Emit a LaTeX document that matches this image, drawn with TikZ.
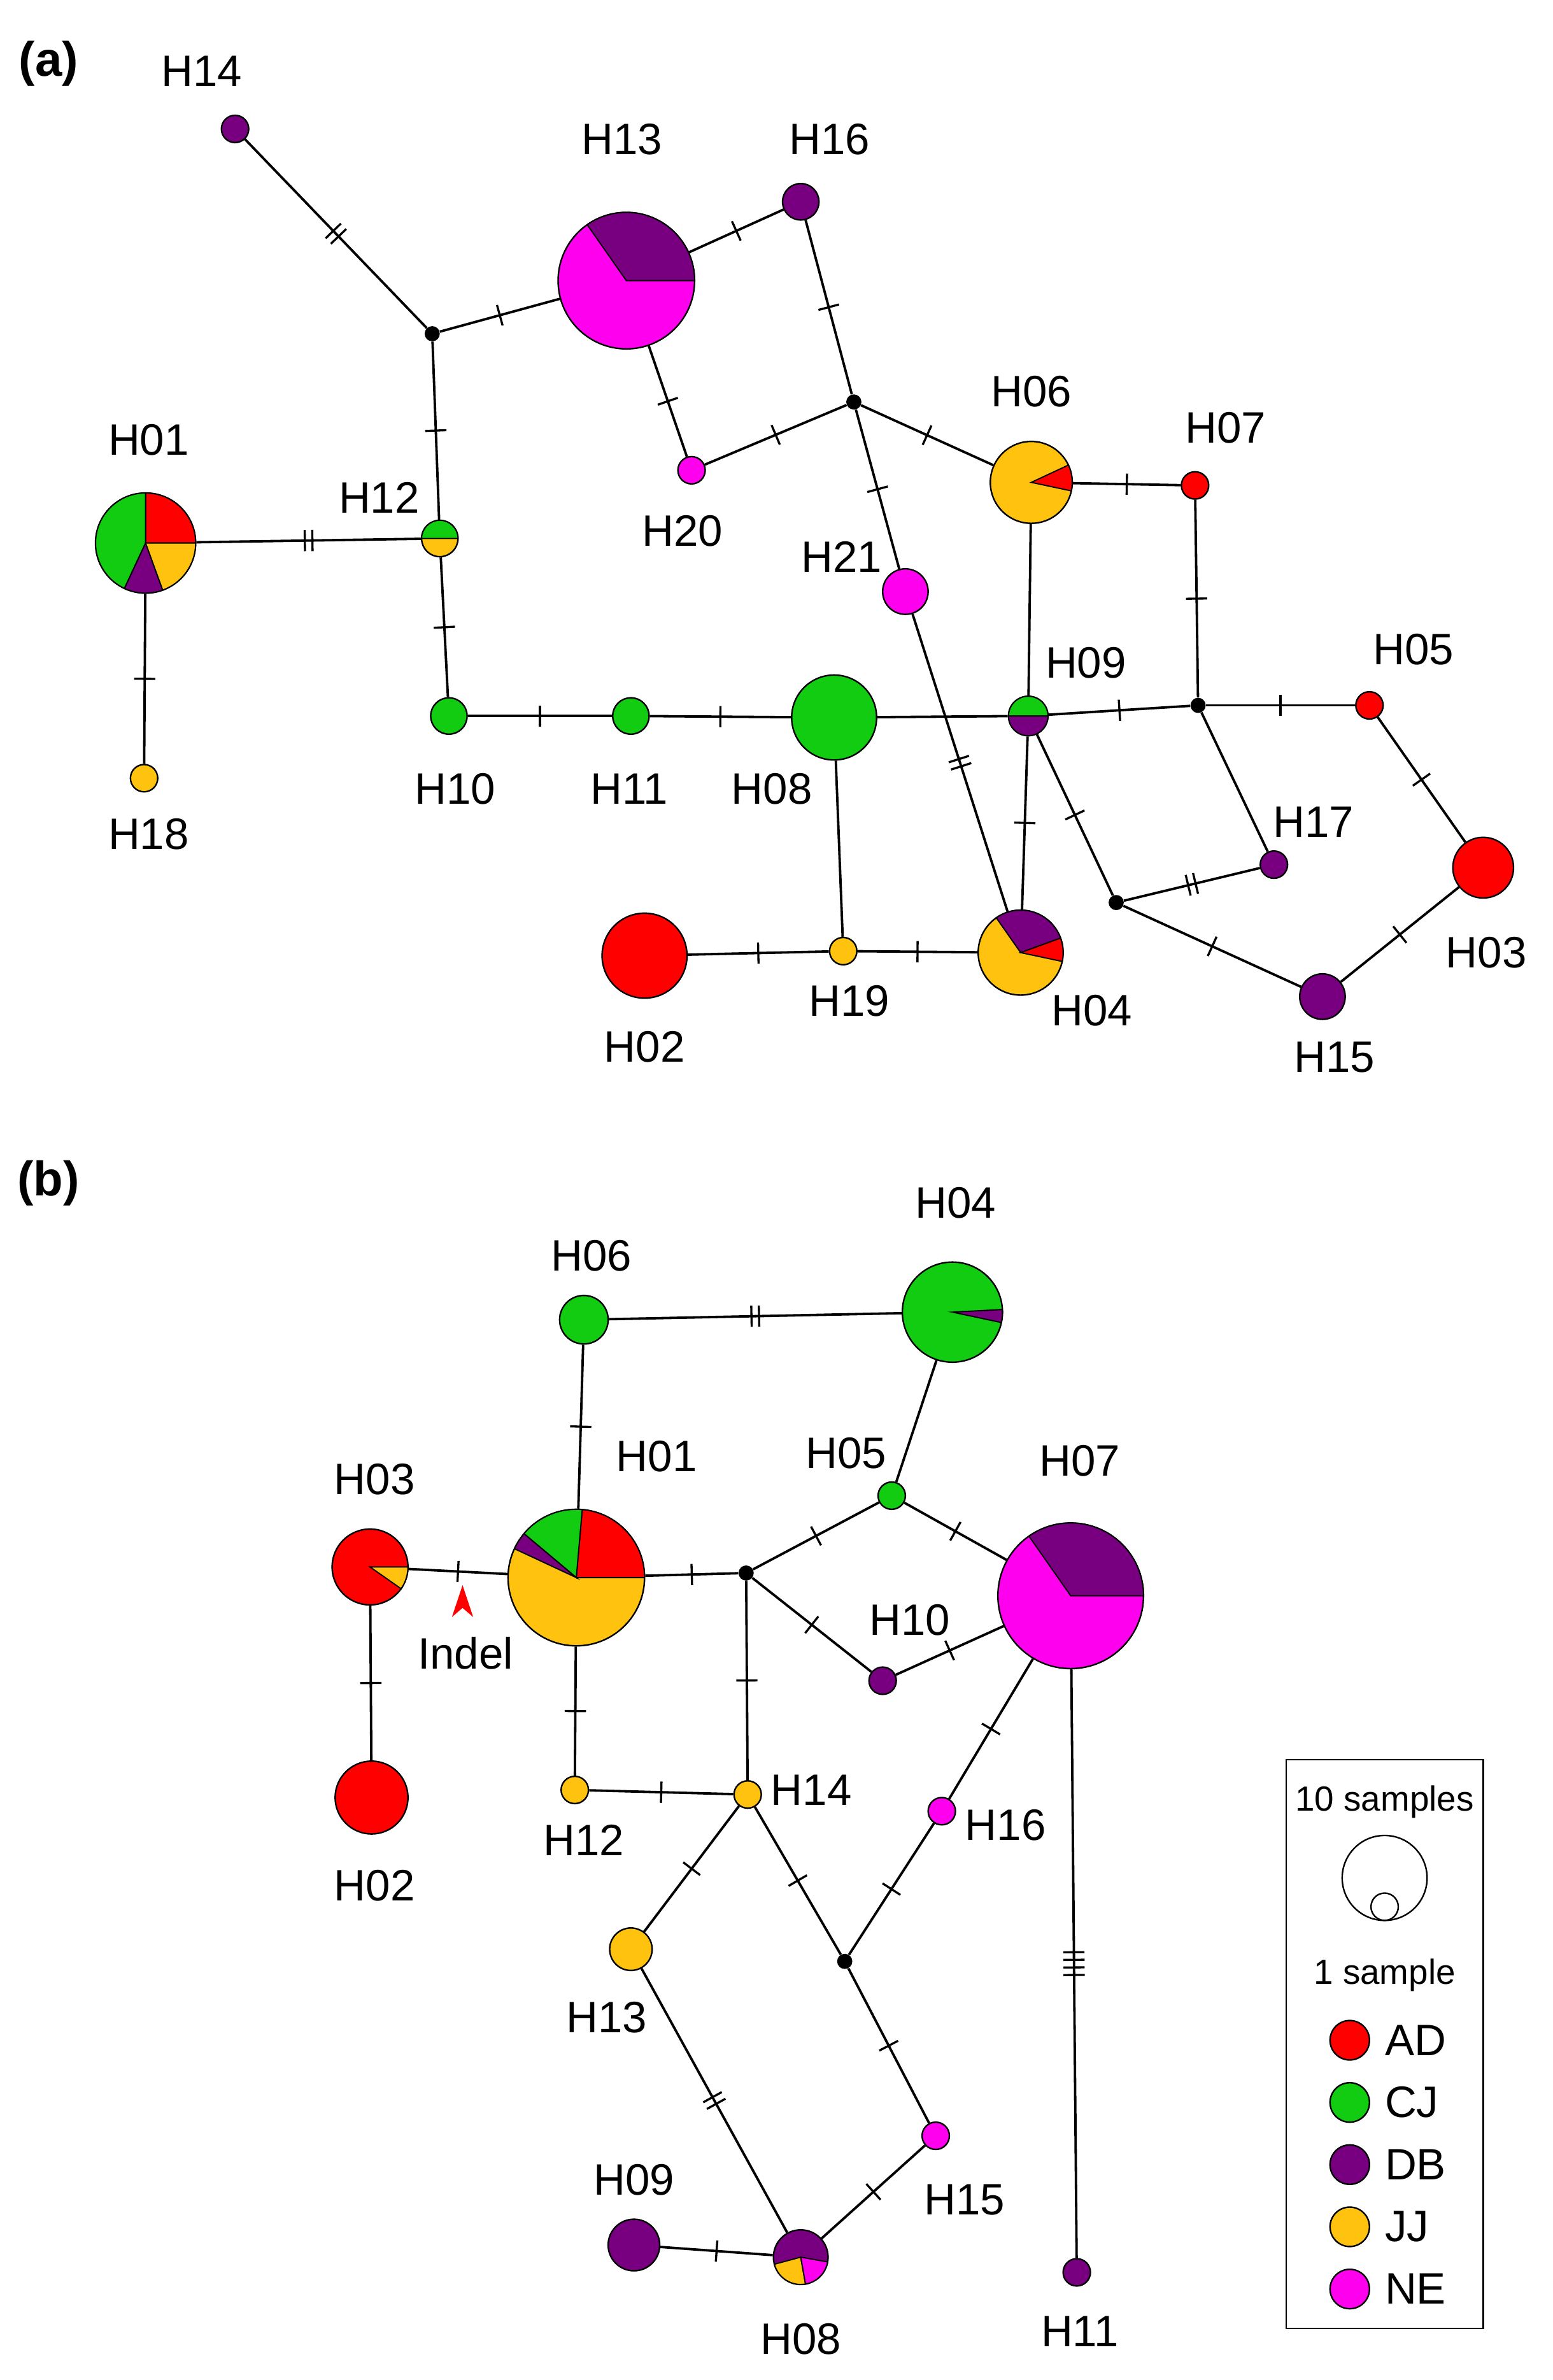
\documentclass[tikz,border=0pt]{standalone}
\usepackage{fontspec}
\setmainfont{Liberation Sans}
\usetikzlibrary{decorations.markings,backgrounds}
\definecolor{AD}{HTML}{FF0000}
\definecolor{CJ}{HTML}{11CC11}
\definecolor{DB}{HTML}{780080}
\definecolor{JJ}{HTML}{FFC20E}
\definecolor{NE}{HTML}{FF00EE}
\newcommand\slc[5]{\filldraw[fill=#5,draw=black,line width=0.8pt] (#1.center) -- ++(#3:#2pt) arc[start angle=#3,end angle=#4,radius=#2pt] -- cycle;}
\newcommand\hp[5]{\node[hap,minimum size=#4*2pt,fill=#5] (#1) at (#2,-#3) {};}
\newcommand\jn[3]{\node[jun] (#1) at (#2,-#3) {};}
\newcommand\lb[4]{\node[lab] (#1) at (#2,-#3) {#4};}
\tikzset{
 hap/.style={circle,draw=black,line width=1pt,inner sep=0pt},
 jun/.style={circle,fill=black,inner sep=0pt,minimum size=10pt},
 lab/.style={font=\fontsize{29}{33}\selectfont,inner sep=0pt},
 e/.style={line width=1.6pt},
 t1/.style={postaction={decorate,decoration={markings,mark=at position 0.5 with {\draw[line width=1.4pt] (0,-7pt)--(0,7pt);}}}},
 t2/.style={postaction={decorate,decoration={markings,mark=at position 0.5 with {\draw[line width=1.4pt] (-2.5pt,-7pt)--(-2.5pt,7pt) (2.5pt,-7pt)--(2.5pt,7pt);}}}},
 t4/.style={postaction={decorate,decoration={markings,mark=at position 0.5 with {\draw[line width=1.4pt] (-7.5pt,-7pt)--(-7.5pt,7pt) (-2.5pt,-7pt)--(-2.5pt,7pt) (2.5pt,-7pt)--(2.5pt,7pt) (7.5pt,-7pt)--(7.5pt,7pt);}}}},
}
\begin{document}
\begin{tikzpicture}[x=1pt,y=1pt]
\useasboundingbox (0,0) rectangle (1024,-1569);
\node[font=\fontsize{32}{36}\selectfont\bfseries] (pa) at (32,-42) {(a)};
\node[font=\fontsize{32}{36}\selectfont\bfseries] (pb) at (32,-780) {(b)};
% ---------- (a)
\hp{aH14}{155}{85}{9}{DB}
\jn{aJ1}{285}{220}
\hp{aH13}{413}{185}{45}{NE}
\hp{aH16}{528}{133}{12}{DB}
\hp{aH20}{456}{310}{9}{NE}
\jn{aJ2}{563}{265}
\hp{aH06}{680}{318}{27}{JJ}
\hp{aH07}{788}{320}{9}{AD}
\hp{aH21}{597}{390}{15}{NE}
\hp{aH01}{96}{358}{33}{JJ}
\hp{aH12}{290}{355}{12}{JJ}
\hp{aH18}{95}{513}{9}{JJ}
\hp{aH10}{296}{472}{12}{CJ}
\hp{aH11}{416}{472}{12}{CJ}
\hp{aH08}{550}{473}{28}{CJ}
\hp{aH09}{678}{472}{13}{CJ}
\jn{aJ3}{790}{465}
\hp{aH05}{903}{465}{9}{AD}
\hp{aH17}{840}{570}{9}{DB}
\jn{aJ4}{736}{595}
\hp{aH03}{978}{572}{20}{AD}
\hp{aH15}{872}{657}{15}{DB}
\hp{aH02}{425}{630}{28}{AD}
\hp{aH19}{556}{627}{9}{JJ}
\hp{aH04}{673}{628}{28}{JJ}
\slc{aH13}{45}{0}{125}{DB}
\slc{aH06}{27}{-12}{25}{AD}
\slc{aH01}{33}{0}{90}{AD}
\slc{aH01}{33}{90}{245}{CJ}
\slc{aH01}{33}{245}{290}{DB}
\slc{aH01}{33}{290}{360}{JJ}
\slc{aH12}{12}{0}{180}{CJ}
\slc{aH09}{13}{0}{180}{CJ}
\slc{aH09}{13}{180}{360}{DB}
\slc{aH04}{28}{20}{125}{DB}
\slc{aH04}{28}{-12}{20}{AD}
\begin{pgfonlayer}{background}
\draw[e,t2] (aH14)--(aJ1);
\draw[e,t1] (aJ1)--(aH13);
\draw[e,t1] (aH13)--(aH16);
\draw[e,t1] (aH13)--(aH20);
\draw[e,t1] (aH20)--(aJ2);
\draw[e,t1] (aH16)--(aJ2);
\draw[e,t1] (aJ2)--(aH06);
\draw[e,t1] (aJ2)--(aH21);
\draw[e,t1] (aH06)--(aH07);
\draw[e,t1] (aH07)--(aJ3);
\draw[e] (aH06)--(aH09);
\draw[e,t1] (aJ1)--(aH12);
\draw[e,t2] (aH01)--(aH12);
\draw[e,t1] (aH01)--(aH18);
\draw[e,t1] (aH12)--(aH10);
\draw[e,t1] (aH10)--(aH11);
\draw[e,t1] (aH11)--(aH08);
\draw[e] (aH08)--(aH09);
\draw[e,t1] (aH09)--(aJ3);
\draw[e,t1] (aJ3)--(aH05);
\draw[e,t1] (aH05)--(aH03);
\draw[e] (aJ3)--(aH17);
\draw[e,t2] (aJ4)--(aH17);
\draw[e,t1] (aH09)--(aJ4);
\draw[e,t1] (aJ4)--(aH15);
\draw[e,t1] (aH15)--(aH03);
\draw[e,t1] (aH09)--(aH04);
\draw[e,t2] (aH21)--(aH04);
\draw[e] (aH08)--(aH19);
\draw[e,t1] (aH02)--(aH19);
\draw[e,t1] (aH19)--(aH04);
\end{pgfonlayer}
\lb{laH14}{133}{47}{H14}
\lb{laH13}{410}{92}{H13}
\lb{laH16}{547}{92}{H16}
\lb{laH20}{450}{350}{H20}
\lb{laH06}{680}{258}{H06}
\lb{laH07}{808}{282}{H07}
\lb{laH21}{555}{367}{H21}
\lb{laH01}{98}{290}{H01}
\lb{laH12}{250}{328}{H12}
\lb{laH18}{98}{550}{H18}
\lb{laH10}{300}{520}{H10}
\lb{laH11}{415}{520}{H11}
\lb{laH08}{509}{520}{H08}
\lb{laH09}{716}{437}{H09}
\lb{laH05}{932}{428}{H05}
\lb{laH17}{866}{542}{H17}
\lb{laH03}{980}{628}{H03}
\lb{laH15}{880}{697}{H15}
\lb{laH02}{425}{690}{H02}
\lb{laH19}{560}{660}{H19}
\lb{laH04}{720}{666}{H04}
% ---------- (b)
\hp{bH06}{385}{870}{16}{CJ}
\hp{bH04}{628}{865}{33}{CJ}
\hp{bH03}{244}{1033}{25}{AD}
\hp{bH01}{380}{1040}{45}{JJ}
\hp{bH05}{588}{986}{9}{CJ}
\jn{bJ5}{492}{1037}
\hp{bH07}{706}{1052}{48}{NE}
\hp{bH10}{582}{1108}{9}{DB}
\hp{bH02}{245}{1185}{24}{AD}
\hp{bH12}{379}{1180}{9}{JJ}
\hp{bH14}{493}{1183}{9}{JJ}
\hp{bH16}{621}{1194}{9}{NE}
\hp{bH13}{416}{1285}{14}{JJ}
\jn{bJ6}{557}{1293}
\hp{bH15}{617}{1408}{9}{NE}
\hp{bH09}{418}{1480}{17}{DB}
\hp{bH08}{528}{1488}{18}{DB}
\hp{bH11}{710}{1498}{9}{DB}
\slc{bH04}{33}{-12}{3}{DB}
\slc{bH03}{25}{-35}{0}{JJ}
\slc{bH01}{45}{0}{85}{AD}
\slc{bH01}{45}{85}{140}{CJ}
\slc{bH01}{45}{140}{155}{DB}
\slc{bH07}{48}{0}{125}{DB}
\slc{bH08}{18}{195}{280}{JJ}
\slc{bH08}{18}{280}{350}{NE}
\begin{pgfonlayer}{background}
\draw[e,t2] (bH06)--(bH04);
\draw[e,t1] (bH06)--(bH01);
\draw[e,t1] (bH03)--(bH01);
\draw[e,t1] (bH03)--(bH02);
\draw[e,t1] (bH01)--(bJ5);
\draw[e,t1] (bH01)--(bH12);
\draw[e,t1] (bJ5)--(bH05);
\draw[e] (bH05)--(bH04);
\draw[e,t1] (bH05)--(bH07);
\draw[e,t1] (bJ5)--(bH10);
\draw[e,t1] (bH10)--(bH07);
\draw[e,t1] (bJ5)--(bH14);
\draw[e,t1] (bH12)--(bH14);
\draw[e,t1] (bH14)--(bH13);
\draw[e,t1] (bH14)--(bJ6);
\draw[e,t1] (bJ6)--(bH16);
\draw[e,t1] (bH16)--(bH07);
\draw[e,t1] (bJ6)--(bH15);
\draw[e,t2] (bH13)--(bH08);
\draw[e,t1] (bH15)--(bH08);
\draw[e,t1] (bH09)--(bH08);
\draw[e,t4] (bH07)--(bH11);
\end{pgfonlayer}
\fill[AD] (305,-1045) -- (298,-1066) -- (305,-1060) -- (312,-1066) -- cycle;
\lb{lindel}{307}{1090}{Indel}
\lb{lbH06}{390}{828}{H06}
\lb{lbH04}{630}{793}{H04}
\lb{lbH03}{247}{975}{H03}
\lb{lbH01}{433}{960}{H01}
\lb{lbH05}{558}{958}{H05}
\lb{lbH07}{712}{963}{H07}
\lb{lbH10}{600}{1068}{H10}
\lb{lbH02}{247}{1243}{H02}
\lb{lbH12}{385}{1213}{H12}
\lb{lbH14}{535}{1180}{H14}
\lb{lbH16}{663}{1203}{H16}
\lb{lbH13}{400}{1330}{H13}
\lb{lbH15}{636}{1450}{H15}
\lb{lbH09}{418}{1437}{H09}
\lb{lbH08}{528}{1542}{H08}
\lb{lbH11}{712}{1537}{H11}
% legend
\node[draw=black,line width=1pt,minimum width=130pt,minimum height=375pt,inner sep=0pt] (leg) at (913,-1347.5) {};
\node[lab,font=\fontsize{23}{27}\selectfont] (l10) at (913,-1188) {10 samples};
\node[circle,draw,line width=1pt,minimum size=56pt,inner sep=0pt] (c10) at (913,-1238) {};
\node[circle,draw,line width=1pt,minimum size=18pt,inner sep=0pt] (c1) at (913,-1257) {};
\node[lab,font=\fontsize{23}{27}\selectfont] (l1) at (913,-1302) {1 sample};
\foreach \c/\y [count=\i] in {AD/1345,CJ/1386,DB/1427,JJ/1468,NE/1509}{
 \node[hap,fill=\c,minimum size=26pt] (k\i) at (890,-\y) {};
 \node[lab,anchor=west] (kl\i) at (913,-\y) {\c};
}
\end{tikzpicture}
\end{document}
